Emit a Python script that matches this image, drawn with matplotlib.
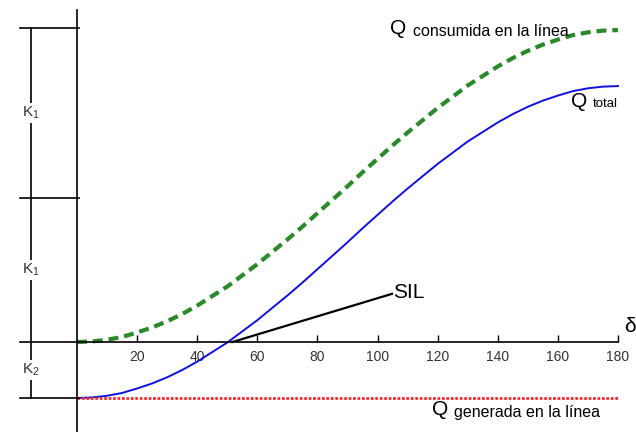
import matplotlib
matplotlib.use('Agg')
import matplotlib.pyplot as plt

plt.rcParams['font.family'] = ['Liberation Sans', 'DejaVu Sans']

# data (units: K2 = 1)
delta = [0, 5, 10, 15, 20, 25, 30, 35, 40, 45, 50, 55, 60, 65, 70, 75, 80, 85, 90,
         95, 100, 105, 110, 115, 120, 125, 130, 135, 140, 145, 150, 155, 160, 165, 170, 175, 180]
q_consumida = [0.00, 0.01, 0.04, 0.09, 0.17, 0.26, 0.37, 0.50, 0.65, 0.82, 0.99, 1.19,
               1.39, 1.61, 1.83, 2.06, 2.30, 2.54, 2.78, 3.03, 3.27, 3.51, 3.74, 3.96,
               4.18, 4.38, 4.58, 4.75, 4.92, 5.07, 5.20, 5.31, 5.40, 5.48, 5.53, 5.56, 5.57]
q_total = [-1.00, -0.99, -0.96, -0.91, -0.83, -0.74, -0.63, -0.50, -0.35, -0.18, -0.01, 0.19,
           0.39, 0.61, 0.83, 1.06, 1.30, 1.54, 1.78, 2.03, 2.27, 2.51, 2.74, 2.96,
           3.18, 3.38, 3.58, 3.75, 3.92, 4.07, 4.20, 4.31, 4.40, 4.48, 4.53, 4.56, 4.57]
gen_delta = [0, 180]
q_generada = [-1.0, -1.0]
sil_delta = [51.7, 104.8]
sil_q = [0.0, 0.86]
xticks = [20, 40, 60, 80, 100, 120, 140, 160, 180]
bracket_levels = [5.61, 2.57, 0.0, -1.0]
bracket_labels = ['1', '1', '2']

fig = plt.figure(figsize=(6.36, 4.32), dpi=100)
ax = fig.add_axes([0, 0, 1, 1])
ax.set_xlim(-25.62, 186.0)
ax.set_ylim(-1.607, 6.107)

for s in ['top', 'right']:
    ax.spines[s].set_visible(False)
ax.spines['left'].set_position(('data', 0))
ax.spines['bottom'].set_position(('data', 0))
ax.spines['left'].set_bounds(-1.607, 5.93)
ax.spines['bottom'].set_bounds(0, 180)
for s in ['left', 'bottom']:
    ax.spines[s].set_linewidth(1.2)
ax.set_yticks([])
ax.set_xticks(xticks)
ax.set_xticklabels([str(t) for t in xticks])
ax.tick_params(axis='x', direction='in', length=5, width=1, pad=6, labelsize=10,
               labelcolor='#333333')

ax.plot(delta, q_consumida, color='#2a8a2a', lw=3, linestyle=(0, (2.4, 1.4)))
ax.plot(delta, q_total, color='#1010e0', lw=1.4)
ax.plot(gen_delta, q_generada, color='#e83030', lw=2, linestyle=(0, (1, 0.6)))
ax.plot(sil_delta, sil_q, color='black', lw=1.6)

# bracket on the left
ax.plot([-15.3, -15.3], [bracket_levels[-1], bracket_levels[0]], color='black', lw=1.2)
for lv in bracket_levels:
    ax.plot([-19.0, 0.7], [lv, lv], color='black', lw=1.2)
for i, lab in enumerate(bracket_labels):
    yc = (bracket_levels[i] + bracket_levels[i + 1]) / 2
    ax.text(-15.3, yc, r'$\mathregular{K_{%s}}$' % lab, ha='center', va='center',
            fontsize=11, color='#333333',
            bbox=dict(facecolor='white', edgecolor='none', pad=1.5))

# labels
ax.text(105.0, 0.88, 'SIL', fontsize=15, ha='left', va='center')
ax.text(182.0, 0.28, 'δ', fontsize=15, ha='left', va='center')
ax.text(104, 5.6, 'Q', fontsize=15, ha='left', va='center')
ax.text(111.8, 5.55, 'consumida en la línea', fontsize=11.5, ha='left', va='center')
ax.text(164.5, 4.3, 'Q', fontsize=15, ha='left', va='center')
ax.text(171.6, 4.25, 'total', fontsize=9.5, ha='left', va='center')
ax.text(118, -1.2, 'Q', fontsize=15, ha='left', va='center')
ax.text(125.3, -1.25, 'generada en la línea', fontsize=11.5, ha='left', va='center')

fig.savefig('out.png', dpi=100)
